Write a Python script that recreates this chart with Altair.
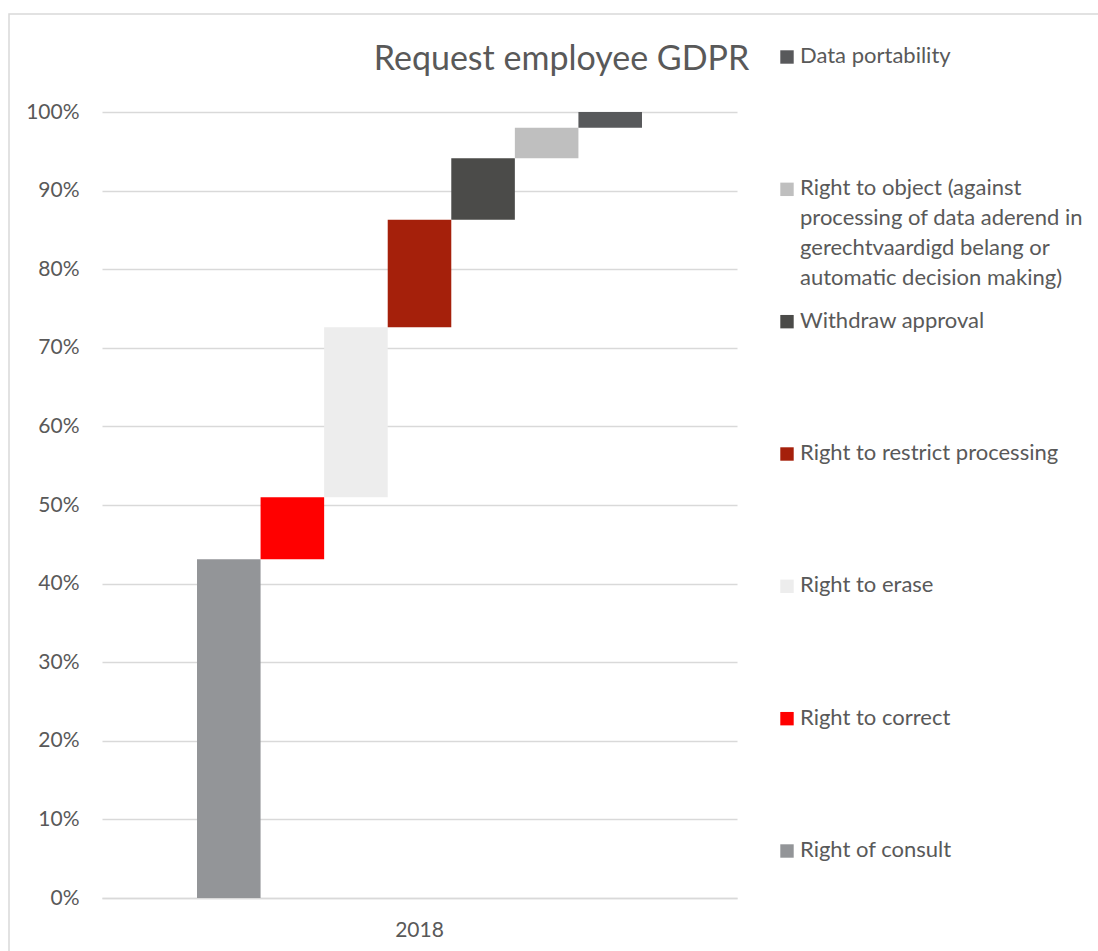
import altair as alt
import pandas as pd

# ---- data ----
year = "2018"
series = [
    "Right of consult",
    "Right to correct",
    "Right to erase",
    "Right to restrict processing",
    "Withdraw approval",
    "Right to object  (against processing of data aderend in gerechtvaardigd belang  or automatic decision making)",
    "Data portability",
]
shares = [43.1, 7.9, 21.6, 13.7, 7.8, 3.9, 2.0]  # percent
colors = ["#939598", "#FF0000", "#EDEDED", "#A5200B", "#4B4B49", "#BFBFBF", "#58595B"]
legend_lines = [
    ["Right of consult"],
    ["Right to correct"],
    ["Right to erase"],
    ["Right to restrict processing"],
    ["Withdraw approval"],
    ["Right to object  (against", "processing of data aderend in",
     "gerechtvaardigd belang  or", "automatic decision making)"],
    ["Data portability"],
]

# ---- build table ----
df = pd.DataFrame({"series": series, "share": shares})
df["year"] = year
df["end"] = df["share"].cumsum() / 100.0
df["start"] = df["end"] - df["share"] / 100.0

legend_order = series[::-1]
legend_values = [{"series": s, "lines": l} for s, l in zip(series, legend_lines)]

FONT = "Lato"
TXT = "#595959"
GRID = "#D9D9D9"

color_scale = alt.Scale(domain=series, range=colors)

bars = alt.Chart(df).mark_bar(strokeWidth=0).encode(
    x=alt.X(
        "year:N",
        title=None,
        scale=alt.Scale(paddingInner=0, paddingOuter=0.2135),
        axis=alt.Axis(
            labelAngle=0, labelFont=FONT, labelFontSize=21, labelColor=TXT,
            labelPadding=21, ticks=False, tickSize=0, grid=False,
            domainColor=GRID, domainWidth=1.5,
        ),
    ),
    xOffset=alt.XOffset("series:N", sort=series,
                        scale=alt.Scale(paddingInner=0, paddingOuter=0)),
    y=alt.Y(
        "start:Q",
        title=None,
        scale=alt.Scale(domain=[0, 1], nice=False),
        axis=alt.Axis(
            format="%", values=[i / 10 for i in range(11)],
            labelFont=FONT, labelFontSize=21, labelColor=TXT, labelPadding=23,
            ticks=False, tickSize=0, domain=False,
            grid=True, gridColor=GRID, gridWidth=1.3,
        ),
    ),
    y2="end:Q",
    color=alt.Color("series:N", scale=color_scale, legend=None),
)

legend_y = alt.Y("series:N", sort=legend_order, axis=None,
                 scale=alt.Scale(type="point", range=[-55, 739], padding=0))

legend_sq = alt.Chart(alt.Data(values=legend_values)).mark_square(
    size=180, opacity=1, strokeWidth=0
).encode(
    x=alt.value(685),
    y=legend_y,
    color=alt.Color("series:N", scale=color_scale, legend=None),
)

legend_txt = alt.Chart(alt.Data(values=legend_values)).mark_text(
    align="left", baseline="top", dy=-11, font=FONT, fontSize=22,
    color=TXT, lineHeight=30,
).encode(
    x=alt.value(698),
    y=legend_y,
    text="lines:N",
)

frame = alt.Chart(alt.Data(values=[{"f": 1}])).mark_rect(
    filled=False, stroke=GRID, strokeWidth=1.5
).encode(
    x=alt.value(-93), x2=alt.value(1000),
    y=alt.value(-98), y2=alt.value(845),
)

chart = alt.layer(frame, bars, legend_sq, legend_txt).resolve_scale(
    y="independent"
).properties(
    width=635,
    height=786,
    autosize=alt.AutoSizeParams(type="none"),
    padding={"left": 102, "top": 112, "right": 361, "bottom": 53},
    background="white",
    title=alt.Title(
        "Request employee GDPR", font=FONT, fontSize=34, color=TXT,
        fontWeight="normal", anchor="middle", dx=142, offset=-91,
        baseline="alphabetic", frame="group",
    ),
).configure_view(stroke="transparent")

chart.save("out.html", embed_options={"renderer": "svg", "actions": False})
